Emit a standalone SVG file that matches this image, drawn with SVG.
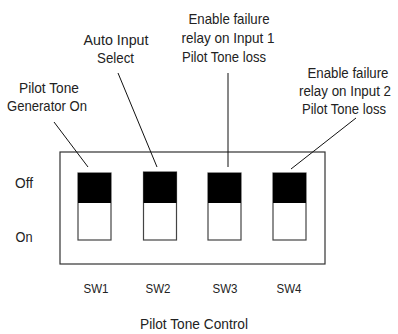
<svg xmlns="http://www.w3.org/2000/svg" width="398" height="334" viewBox="0 0 398 334">
<style>
text{font-family:"Liberation Sans",Arial,sans-serif;font-size:15px;fill:#222;text-anchor:middle}
.sw{font-size:12px}
.r{font-size:14px}
.box{fill:#fff;stroke:#333;stroke-width:1.2}
.up{fill:#000}
.lo{fill:#fff;stroke:#444;stroke-width:1.2}
.ln{stroke:#111;stroke-width:1;fill:none}
</style>
<rect width="398" height="334" fill="#fff"/>
<g id="panel"><rect class="box" x="60" y="152" width="265" height="112"/></g>
<g id="sw1"><rect class="lo" x="78" y="173" width="33" height="67"/><rect class="up" x="78" y="173" width="33" height="30"/><text class="sw" x="96" y="293" textLength="25" lengthAdjust="spacingAndGlyphs">SW1</text></g>
<g id="sw2"><rect class="lo" x="143.5" y="172" width="33" height="68"/><rect class="up" x="143.5" y="172" width="33" height="31"/><text class="sw" x="158" y="293" textLength="25" lengthAdjust="spacingAndGlyphs">SW2</text></g>
<g id="sw3"><rect class="lo" x="208" y="173" width="33" height="67"/><rect class="up" x="208" y="173" width="33" height="30"/><text class="sw" x="225" y="293" textLength="25" lengthAdjust="spacingAndGlyphs">SW3</text></g>
<g id="sw4"><rect class="lo" x="273" y="173" width="33" height="67"/><rect class="up" x="273" y="173" width="33" height="30"/><text class="sw" x="289" y="293" textLength="25" lengthAdjust="spacingAndGlyphs">SW4</text></g>
<g id="states"><text x="24" y="188" textLength="18" lengthAdjust="spacingAndGlyphs">Off</text><text x="24" y="242" textLength="17" lengthAdjust="spacingAndGlyphs">On</text></g>
<g id="lbl1"><text x="49" y="93" textLength="60" lengthAdjust="spacingAndGlyphs">Pilot Tone</text><text x="47" y="111" textLength="80" lengthAdjust="spacingAndGlyphs">Generator On</text></g>
<g id="lbl2"><text x="116" y="45" textLength="65" lengthAdjust="spacingAndGlyphs">Auto Input</text><text x="115.5" y="63" textLength="37" lengthAdjust="spacingAndGlyphs">Select</text></g>
<g id="lbl3"><text x="229" y="24" textLength="81" lengthAdjust="spacingAndGlyphs">Enable failure</text><text x="228" y="43" textLength="93" lengthAdjust="spacingAndGlyphs">relay on Input 1</text><text x="224" y="62" textLength="84" lengthAdjust="spacingAndGlyphs">Pilot Tone loss</text></g>
<g id="lbl4"><text class="r" x="348" y="78" textLength="81" lengthAdjust="spacingAndGlyphs">Enable failure</text><text class="r" x="345" y="96" textLength="92" lengthAdjust="spacingAndGlyphs">relay on Input 2</text><text x="344" y="114" textLength="84" lengthAdjust="spacingAndGlyphs">Pilot Tone loss</text></g>
<g id="connectors">
<line class="ln" x1="54" y1="122" x2="88" y2="167"/>
<line class="ln" x1="118" y1="73" x2="157" y2="167"/>
<line class="ln" x1="228" y1="73" x2="228" y2="167"/>
<line class="ln" x1="356" y1="118" x2="291" y2="169"/>
</g>
<text x="194" y="329" textLength="108" lengthAdjust="spacingAndGlyphs">Pilot Tone Control</text>
</svg>
